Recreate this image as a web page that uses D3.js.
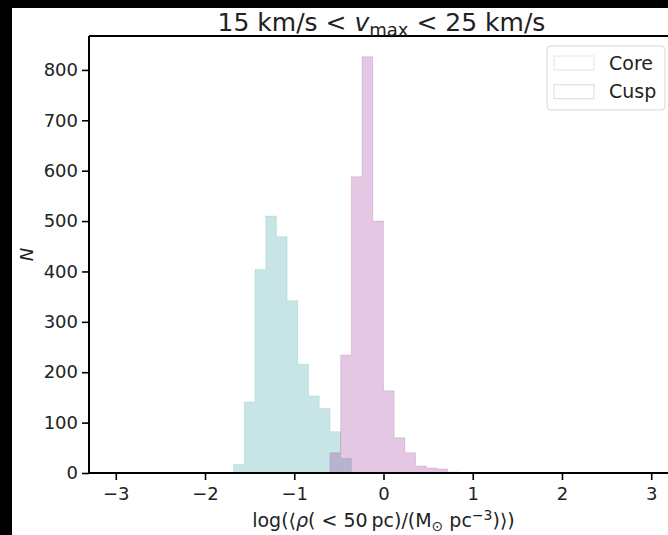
<!DOCTYPE html>
<html>
<head>
<meta charset="utf-8">
<script src="https://cdn.jsdelivr.net/npm/d3@7"></script>
<style>
  html, body { margin: 0; padding: 0; background: #000; }
  svg { display: block; font-family: "DejaVu Sans", sans-serif; }
</style>
</head>
<body>
<svg id="chart" width="668" height="535"></svg>
<script>
// Histogram bin edges (left edge of each bin plus the final right edge) and counts
const coreEdges = [-1.68, -1.56, -1.44, -1.32, -1.20, -1.08, -0.96, -0.84, -0.72, -0.60, -0.48, -0.36];
const coreCounts = [17, 141, 404, 510, 469, 342, 216, 153, 128, 82, 29];
const cuspEdges = [-0.60, -0.48, -0.36, -0.24, -0.12, 0.00, 0.12, 0.24, 0.36, 0.48, 0.60, 0.72, 0.84];
const cuspCounts = [40, 234, 588, 826, 500, 163, 70, 40, 14, 10, 8, 2];
const xTicks = [-3, -2, -1, 0, 1, 2, 3];
const yTicks = [0, 100, 200, 300, 400, 500, 600, 700, 800];
const seriesNames = ["Core", "Cusp"];
const seriesColors = ["rgb(72,170,170)", "rgb(128,0,128)"];
const seriesAlpha = [0.3, 0.22];

const svg = d3.select("#chart");
const W = 668, H = 535;

// figure background
svg.append("rect").attr("x", 0).attr("y", 0).attr("width", W).attr("height", H).attr("fill", "#000");
svg.append("rect").attr("x", 12).attr("y", 8).attr("width", W - 12).attr("height", H - 8).attr("fill", "#fff");

const plot = { left: 89, right: 678, top: 36, bottom: 473 };

const x = d3.scaleLinear().domain([-3.3, 3.3]).range([plot.left, plot.right]);
const y = d3.scaleLinear().domain([0, d3.max(cuspCounts) * 1.05]).range([plot.bottom, plot.top]);

// stepfilled histograms
function stepPoints(edges, counts) {
  const pts = [[edges[0], 0]];
  counts.forEach((c, i) => {
    pts.push([edges[i], c]);
    pts.push([edges[i + 1], c]);
  });
  pts.push([edges[edges.length - 1], 0]);
  return pts;
}
const line = d3.line().x(d => x(d[0])).y(d => y(d[1]));
const series = [
  { edges: coreEdges, counts: coreCounts },
  { edges: cuspEdges, counts: cuspCounts }
];
series.forEach((s, i) => {
  svg.append("path")
    .attr("d", line(stepPoints(s.edges, s.counts)) + "Z")
    .attr("fill", seriesColors[i])
    .attr("fill-opacity", seriesAlpha[i])
    .attr("stroke", seriesColors[i])
    .attr("stroke-opacity", seriesAlpha[i] * 0.6)
    .attr("stroke-width", 1);
});

// axes
const xAxis = d3.axisBottom(x).tickValues(xTicks).tickSize(7).tickPadding(7).tickFormat(d3.format("d"));
const yAxis = d3.axisLeft(y).tickValues(yTicks).tickSize(7).tickPadding(4).tickFormat(d3.format("d"));

const gx = svg.append("g").attr("transform", `translate(0,${plot.bottom})`).call(xAxis);
const gy = svg.append("g").attr("transform", `translate(${plot.left},0)`).call(yAxis);
[gx, gy].forEach(g => {
  g.select(".domain").remove();
  g.selectAll(".tick line").attr("stroke", "#000").attr("stroke-width", 1.6);
  g.selectAll(".tick text").attr("fill", "#222").style("font-size", "18px").style("font-family", "DejaVu Sans");
});

// spines
svg.append("line").attr("x1", plot.left).attr("x2", plot.left).attr("y1", plot.top).attr("y2", plot.bottom)
  .attr("stroke", "#000").attr("stroke-width", 2);
svg.append("line").attr("x1", plot.left).attr("x2", plot.right).attr("y1", plot.bottom).attr("y2", plot.bottom)
  .attr("stroke", "#000").attr("stroke-width", 2);
svg.append("line").attr("x1", plot.left).attr("x2", plot.right).attr("y1", plot.top).attr("y2", plot.top)
  .attr("stroke", "#000").attr("stroke-width", 2);
svg.append("line").attr("x1", plot.right).attr("x2", plot.right).attr("y1", plot.top).attr("y2", plot.bottom)
  .attr("stroke", "#000").attr("stroke-width", 2);

// title
const cx = (plot.left + plot.right) / 2;
const title = svg.append("text").attr("x", cx - 2).attr("y", 31).attr("text-anchor", "middle")
  .attr("fill", "#222").style("font-size", "25px");
title.append("tspan").text("15 km/s < ");
title.append("tspan").attr("font-style", "italic").text("v");
title.append("tspan").attr("dy", 5).style("font-size", "18px").text("max");
title.append("tspan").attr("dy", -5).text(" < 25 km/s");

// x label
const xl = svg.append("text").attr("x", cx).attr("y", 527).attr("text-anchor", "middle")
  .attr("fill", "#222").style("font-size", "19px");
xl.append("tspan").text("log(\u27E8");
xl.append("tspan").attr("font-style", "italic").text("\u03C1");
xl.append("tspan").text("( < 50\u2009pc)/(M");
xl.append("tspan").attr("dy", 4).style("font-size", "14px").text("\u2299");
xl.append("tspan").attr("dy", -4).text(" pc");
xl.append("tspan").attr("dy", -7).style("font-size", "14px").text("\u22123");
xl.append("tspan").attr("dy", 7).text(")\u27E9)");

// y label
svg.append("text").attr("transform", `translate(33,${(plot.top + plot.bottom) / 2}) rotate(-90)`)
  .attr("text-anchor", "middle").attr("fill", "#222").style("font-size", "18px")
  .attr("font-style", "italic").text("N");

// legend
const lg = svg.append("g");
lg.append("rect").attr("x", 547).attr("y", 46).attr("width", 118).attr("height", 64).attr("rx", 4)
  .attr("fill", "#fff").attr("fill-opacity", 0.8).attr("stroke", "#d6d6d6").attr("stroke-width", 1);
seriesNames.forEach((name, i) => {
  const yy = 56 + i * 28.7;
  lg.append("rect").attr("x", 554).attr("y", yy).attr("width", 40).attr("height", 14)
    .attr("fill", "none").attr("stroke", seriesColors[i]).attr("stroke-opacity", seriesAlpha[i] * 0.8)
    .attr("stroke-width", 1);
  lg.append("text").attr("x", 609).attr("y", yy + 13.5).attr("fill", "#222")
    .style("font-size", "19px").text(name);
});
</script>
</body>
</html>
